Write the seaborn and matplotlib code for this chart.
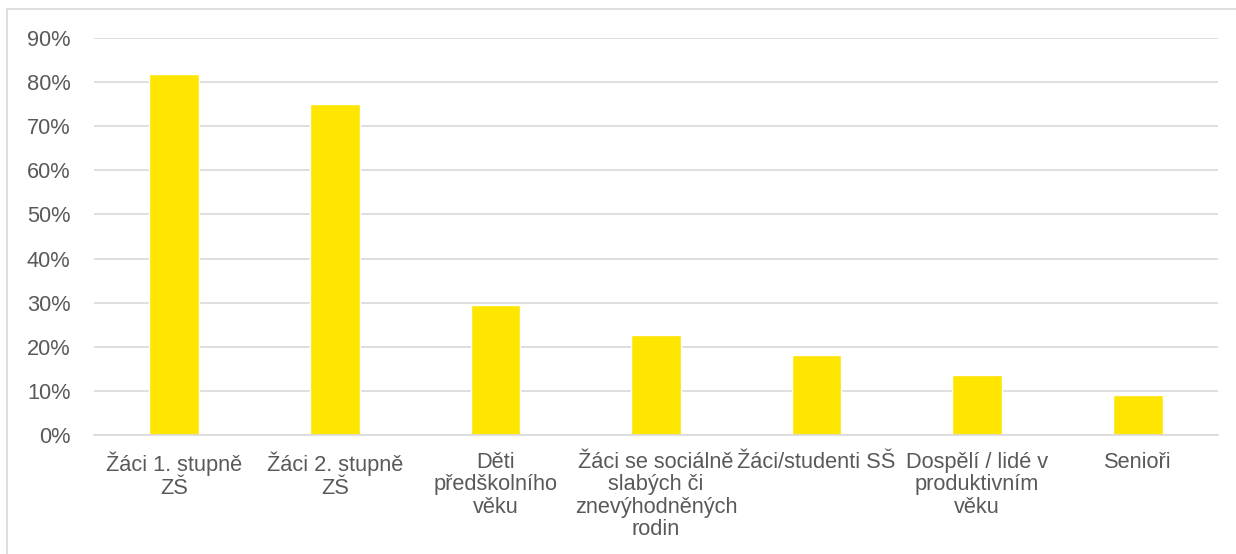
import matplotlib
matplotlib.use("Agg")
import matplotlib.pyplot as plt
import matplotlib.ticker as mticker
from matplotlib.lines import Line2D
import seaborn as sns
import pandas as pd

# === Data ===
kategorie = [
    "Žáci 1. stupně\nZŠ",
    "Žáci 2. stupně\nZŠ",
    "Děti\npředškolního\nvěku",
    "Žáci se sociálně\nslabých či\nznevýhodněných\nrodin",
    "Žáci/studenti SŠ",
    "Dospělí / lidé v\nproduktivním\nvěku",
    "Senioři",
]
podil = [0.818, 0.750, 0.295, 0.227, 0.182, 0.136, 0.091]
y_ticks = [0, 0.1, 0.2, 0.3, 0.4, 0.5, 0.6, 0.7, 0.8, 0.9]

df = pd.DataFrame({"kategorie": kategorie, "podil": podil})

sns.set_style("white")
plt.rcParams["font.family"] = ["Liberation Sans", "DejaVu Sans"]

W, H = 1236, 554
fig = plt.figure(figsize=(W / 100, H / 100), dpi=100)
ax = fig.add_axes([94 / W, 1 - 435 / H, (1218 - 94) / W, (435 - 38) / H])

sns.barplot(data=df, x="kategorie", y="podil", color="#FFE600",
            saturation=1, width=0.31, ax=ax)

ax.set_ylim(0, 0.9)
ax.set_xlim(-0.5, len(kategorie) - 0.5)
ax.set_yticks(y_ticks)
ax.yaxis.set_major_formatter(mticker.PercentFormatter(1.0, decimals=0))
ax.grid(axis="y", color="#d9d9d9", linewidth=1.2)
ax.set_axisbelow(True)
for s in ["top", "right", "left"]:
    ax.spines[s].set_visible(False)
ax.spines["bottom"].set_color("#d9d9d9")
ax.spines["bottom"].set_linewidth(1.2)
ax.tick_params(axis="both", length=0, labelsize=15.7, colors="#595959")
ax.tick_params(axis="x", pad=12)
ax.tick_params(axis="y", pad=17)
for lab in ax.get_xticklabels():
    lab.set_linespacing(1.1)
ax.set_xlabel("")
ax.set_ylabel("")

# rámeček grafu (jen horní a levá hrana jsou vidět)
fig.add_artist(Line2D([7 / W, 7 / W], [0, 1 - 9 / H], transform=fig.transFigure,
                      color="#d9d9d9", linewidth=1.2))
fig.add_artist(Line2D([7 / W, 1], [1 - 9 / H, 1 - 9 / H], transform=fig.transFigure,
                      color="#d9d9d9", linewidth=1.2))

fig.savefig("out.png", dpi=100)
